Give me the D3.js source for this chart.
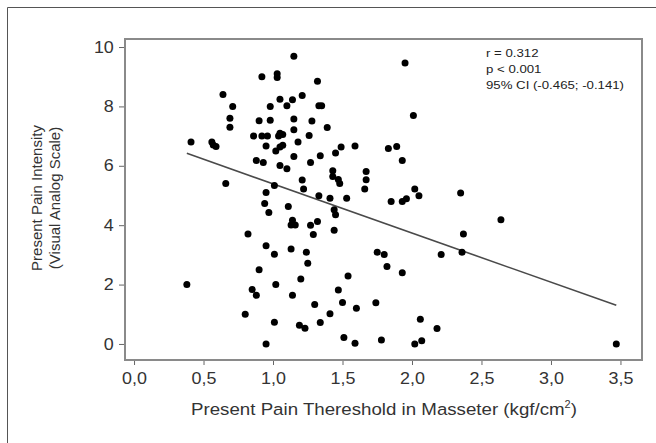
<!DOCTYPE html>
<html>
<head>
<meta charset="utf-8">
<style>
  body { margin: 0; background: #fff; }
  svg { display: block; font-family: "Liberation Sans", Arial, Helvetica, sans-serif; }
</style>
<script src="https://d3js.org/d3.v7.min.js"></script>
</head>
<body>
<svg width="656" height="443"></svg>
<script>

// pain threshold (kgf/cm2) and pain intensity (VAS)
var threshold = [0.41, 0.38, 0.56, 0.57, 0.59, 0.64, 0.66, 0.71, 0.69, 0.69,
  0.82, 0.80, 0.85, 0.88, 0.90, 0.86, 0.92, 0.96, 0.90, 0.92,
  0.88, 0.93, 0.95, 0.95, 0.94, 0.97, 0.95, 0.95, 0.98, 0.98,
  1.01, 1.01, 1.02, 1.01, 1.03, 1.03, 1.02, 1.05, 1.05, 1.05,
  1.04, 1.07, 1.07, 1.05, 1.10, 1.10, 1.11, 1.13, 1.14, 1.16,
  1.13, 1.14, 1.14, 1.15, 1.15, 1.15, 1.15, 1.18, 1.21, 1.21,
  1.22, 1.20, 1.19, 1.23, 1.24, 1.25, 1.27, 1.29, 1.26, 1.27,
  1.28, 1.30, 1.32, 1.33, 1.35, 1.34, 1.33, 1.32, 1.34, 1.39,
  1.41, 1.41, 1.43, 1.43, 1.44, 1.45, 1.44, 1.45, 1.49, 1.47,
  1.48, 1.47, 1.50, 1.51, 1.53, 1.54, 1.59, 1.60, 1.59, 1.66,
  1.67, 1.67, 1.74, 1.75, 1.80, 1.78, 1.82, 1.83, 1.89, 1.85,
  1.93, 1.93, 1.96, 1.93, 1.95, 2.01, 2.02, 2.05, 2.02, 2.06,
  2.07, 2.18, 2.21, 2.35, 2.37, 2.36, 2.64, 3.47];

var intensity = [6.8, 2.0, 6.8, 6.7, 6.65, 8.4, 5.4, 8.0, 7.6, 7.3,
  3.7, 1.0, 1.83, 1.64, 2.5, 7.0, 7.0, 7.0, 7.52, 9.0,
  6.18, 6.11, 6.67, 5.1, 4.73, 4.43, 3.31, 0.0, 8.0, 7.53,
  5.34, 3.02, 2.0, 0.73, 9.1, 8.97, 6.5, 6.63, 8.24, 7.1,
  7.0, 7.05, 6.69, 6.01, 8.02, 5.9, 4.63, 4.01, 4.17, 4.01,
  3.2, 1.64, 8.22, 7.58, 7.21, 6.31, 9.69, 6.8, 8.37, 5.52,
  5.22, 2.19, 0.63, 0.53, 3.09, 2.72, 4.0, 3.69, 7.02, 6.11,
  7.51, 1.33, 8.85, 8.02, 8.02, 6.34, 4.99, 4.12, 0.72, 7.29,
  4.91, 1.02, 5.83, 5.64, 4.52, 4.35, 3.83, 6.43, 6.63, 5.54,
  5.4, 1.82, 1.4, 0.22, 4.91, 2.29, 6.67, 1.2, 0.02, 5.22,
  5.81, 5.53, 1.39, 3.09, 3.01, 0.13, 2.61, 6.58, 6.65, 4.8,
  6.18, 4.8, 4.89, 2.4, 9.46, 7.69, 5.22, 4.99, 0.0, 0.83,
  0.11, 0.52, 3.01, 5.08, 3.7, 3.09, 4.18, 0.0];

// fitted line end points
var fitX = [0.38, 3.47];
var fitY = [6.42, 1.30];

var xTicks = [0, 0.5, 1, 1.5, 2, 2.5, 3, 3.5];
var xTickLabels = ["0,0", "0,5", "1,0", "1,5", "2,0", "2,5", "3,0", "3,5"];
var yTicks = [0, 2, 4, 6, 8, 10];

var stats = ["r = 0.312", "p < 0.001", "95% CI (-0.465; -0.141)"];

var svg = d3.select("svg");

var x = d3.scaleLinear().domain([-0.065, 3.655]).range([125, 642]);
var y = d3.scaleLinear().domain([-0.54, 10.27]).range([360, 39]);

// outer border (only left and top show)
svg.append("path")
    .attr("d", "M7.5,443V7.5H656")
    .attr("fill", "none")
    .attr("stroke", "#555")
    .attr("stroke-width", 1);

// axes
var xAxis = svg.append("g")
    .attr("transform", "translate(0," + y.range()[0] + ")")
    .call(d3.axisBottom(x).tickValues(xTicks).tickSize(5)
      .tickFormat(function(d, i) { return xTickLabels[i]; }));

xAxis.select(".domain").remove();
xAxis.selectAll("line").attr("stroke", "#666");
xAxis.selectAll("text")
    .attr("y", 24).attr("dy", null)
    .attr("fill", "#333")
    .attr("font-size", 16)
    .attr("transform", "scale(1.12,1)");

var yAxis = svg.append("g")
    .attr("transform", "translate(" + x.range()[0] + ",0)")
    .call(d3.axisLeft(y).tickValues(yTicks).tickSize(6).tickPadding(4));

yAxis.select(".domain").remove();
yAxis.selectAll("line").attr("stroke", "#666");
yAxis.selectAll("text")
    .attr("fill", "#333")
    .attr("font-size", 16)
    .attr("transform", "scale(1.12,1)");

// frame
svg.append("rect")
    .attr("x", x.range()[0])
    .attr("y", y.range()[1])
    .attr("width", x.range()[1] - x.range()[0])
    .attr("height", y.range()[0] - y.range()[1])
    .attr("fill", "none")
    .attr("stroke", "#8a8a8a")
    .attr("stroke-width", 2);

// fitted line
svg.append("path")
    .attr("d", d3.line()
      .x(function(d) { return x(d[0]); })
      .y(function(d) { return y(d[1]); })(d3.zip(fitX, fitY)))
    .attr("fill", "none")
    .attr("stroke", "#4a4a4a")
    .attr("stroke-width", 1.6);

// points
svg.append("g").selectAll("circle")
    .data(d3.zip(threshold, intensity))
  .enter().append("circle")
    .attr("cx", function(d) { return x(d[0]); })
    .attr("cy", function(d) { return y(d[1]); })
    .attr("r", 3.5)
    .attr("fill", "#000");

// stats text
svg.append("g")
    .attr("transform", "translate(486,0) scale(1.15,1)")
  .selectAll("text")
    .data(stats)
  .enter().append("text")
    .attr("y", function(d, i) { return 57 + i * 16; })
    .attr("font-size", 11.5)
    .attr("fill", "#222")
    .text(function(d) { return d; });

// axis titles
var xt = svg.append("text")
    .attr("transform", "translate(384,415) scale(1.1,1)")
    .attr("text-anchor", "middle")
    .attr("font-size", 17)
    .attr("fill", "#333")
    .text("Present Pain Thereshold in Masseter (kgf/cm");
xt.append("tspan").attr("font-size", 10).attr("dy", -7).text("2");
xt.append("tspan").attr("dy", 7).text(")");

svg.append("text")
    .attr("transform", "translate(42,198) rotate(-90)")
    .attr("text-anchor", "middle")
    .attr("font-size", 15)
    .attr("fill", "#333")
    .text("Present Pain Intensity");

svg.append("text")
    .attr("transform", "translate(60,198) rotate(-90)")
    .attr("text-anchor", "middle")
    .attr("font-size", 15)
    .attr("fill", "#333")
    .text("(Visual Analog Scale)");

</script>
</body>
</html>
